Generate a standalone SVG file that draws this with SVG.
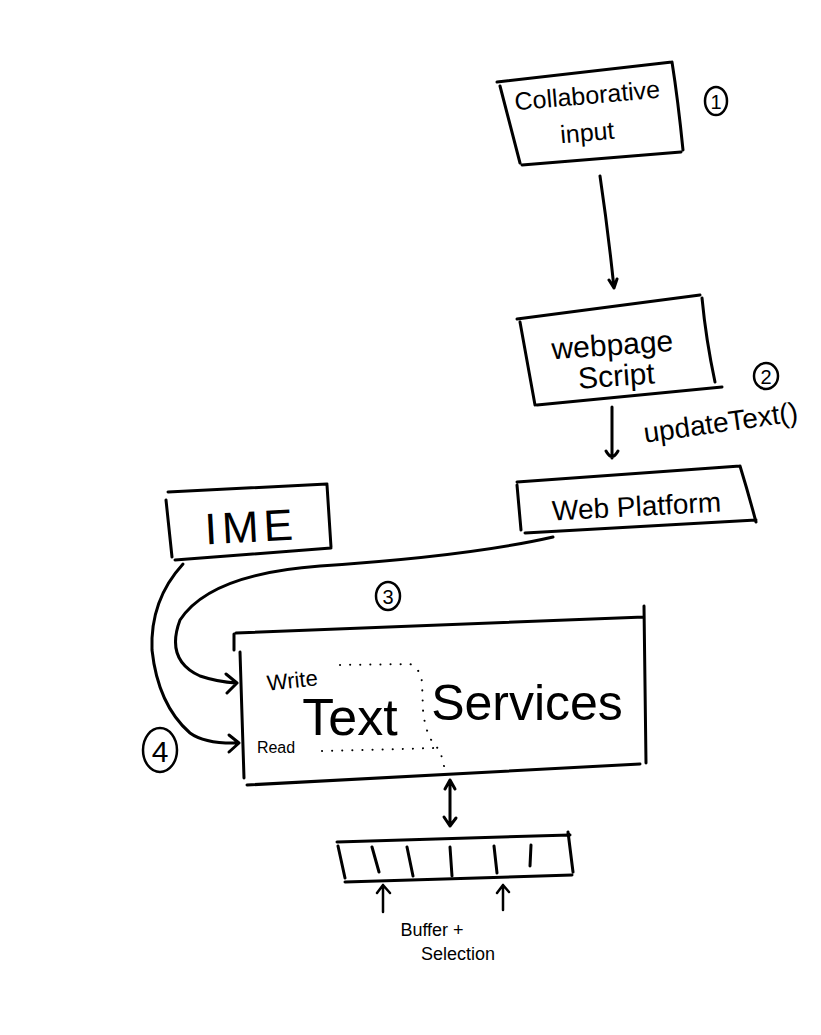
<svg xmlns="http://www.w3.org/2000/svg" width="821" height="1035" viewBox="0 0 821 1035">
<style>
.s{fill:none;stroke:#000;stroke-width:3;stroke-linecap:round;stroke-linejoin:round}
.t{fill:none;stroke:#000;stroke-width:2.5;stroke-linecap:round;stroke-linejoin:round}
.d{fill:none;stroke:#000;stroke-width:2;stroke-linecap:round;stroke-dasharray:0.1 10}
.tx{font-family:"Liberation Sans",Arial,sans-serif;fill:#000}
</style>
<rect width="821" height="1035" fill="#fff"/>
<g id="collab">
<path class="s" d="M497,82 L672,62 M500,86 L520,163 M522,165 L681,152 M672,62 Q678,100 683,150"/>
<text class="tx" x="588" y="104" font-size="25" text-anchor="middle" transform="rotate(-5 588 104)">Collaborative</text>
<text class="tx" x="588" y="141" font-size="25" text-anchor="middle" transform="rotate(-5 588 141)">input</text>
</g>
<g id="n1"><ellipse class="t" cx="716" cy="101" rx="11" ry="14"/><text class="tx" x="716" y="109" font-size="20" text-anchor="middle">1</text></g>
<g id="script">
<path class="s" d="M517,319 L700,295 M520,322 L535,405 M537,405 L722,387 M702,298 Q706,340 715,382"/>
<text class="tx" x="613" y="355" font-size="30" text-anchor="middle" transform="rotate(-4 613 355)">webpage</text>
<text class="tx" x="617" y="386" font-size="30" text-anchor="middle" transform="rotate(-4 617 386)">Script</text>
</g>
<g id="n2"><ellipse class="t" cx="766" cy="376" rx="12" ry="13"/><text class="tx" x="766" y="384" font-size="20" text-anchor="middle">2</text></g>
<g id="platform">
<path class="s" d="M517,482 L740,466 M517,485 L521,530 M525,533 L756,520 M740,466 Q748,492 756,522"/>
<text class="tx" x="637" y="516" font-size="28" text-anchor="middle" transform="rotate(-3 637 516)">Web Platform</text>
</g>
<g id="ime">
<path class="s" d="M168,492 L327,484 M166,500 L172,557 M175,560 L331,548 M327,485 L331,547"/>
<text class="tx" x="252" y="542" font-size="44" letter-spacing="5" text-anchor="middle" transform="rotate(-3 252 542)">IME</text>
</g>
<g id="n3"><ellipse class="t" cx="388" cy="596" rx="12" ry="14"/><text class="tx" x="388" y="604" font-size="20" text-anchor="middle">3</text></g>
<g id="n4"><ellipse class="t" cx="160" cy="750" rx="17" ry="22"/><text class="tx" x="160" y="762" font-size="30" text-anchor="middle">4</text></g>
<g id="textservices">
<path class="s" d="M236,633 L644,617 M234,634 L234,650 M240,652 L244,778 M247,785 L640,764 M644,606 L646,763"/>
<text class="tx" x="293" y="688" font-size="22" transform="rotate(-6 293 688)" text-anchor="middle">Write</text>
<text class="tx" x="350" y="735" font-size="52" text-anchor="middle">Text</text>
<text class="tx" x="527" y="720" font-size="50" text-anchor="middle">Services</text>
<text class="tx" x="276" y="753" font-size="16" text-anchor="middle">Read</text>
<path class="d" d="M340,665 L410,664 Q420,668 422,682 L423,710 Q426,740 440,750 L445,770"/>
<path class="d" d="M322,751 L437,748"/>
</g>
<g id="buffer">
<path class="s" d="M337,842 L570,835 M338,846 L345,878 M345,882 L572,875 M568,832 L573,872"/>
<path class="s" d="M372,847 L379,872 M407,847 L413,876 M450,847 L452,876 M494,846 L497,873 M531,845 L530,866"/>
<path class="t" d="M383,912 L383,885 M377,893 L383,885 L390,893 M503,910 L503,885 M497,893 L503,885 L509,892"/>
<text class="tx" x="432" y="936" font-size="18" text-anchor="middle">Buffer +</text>
<text class="tx" x="458" y="960" font-size="18" text-anchor="middle">Selection</text>
</g>
<g id="connectors">
<path class="s" d="M600,176 Q608,230 614,288 M609,280 L614,288 L617,279"/>
<path class="s" d="M612,407 L612,458 M606,451 Q612,462 618,451"/>
<text class="tx" x="722" y="432" font-size="28" text-anchor="middle" transform="rotate(-8 722 432)">updateText()</text>
<path class="s" d="M553,537 Q470,556 320,566 Q210,574 180,620 Q165,660 200,676 Q218,682 236,683 M226,674 L237,683 L227,693"/>
<path class="s" d="M183,564 Q150,600 152,650 Q158,705 190,733 Q205,744 238,743 M229,735 L239,743 L229,752"/>
<path class="s" d="M450,780 L450,826 M445,789 L450,780 L455,789 M444,817 L450,826 L456,818"/>
</g>
</svg>
